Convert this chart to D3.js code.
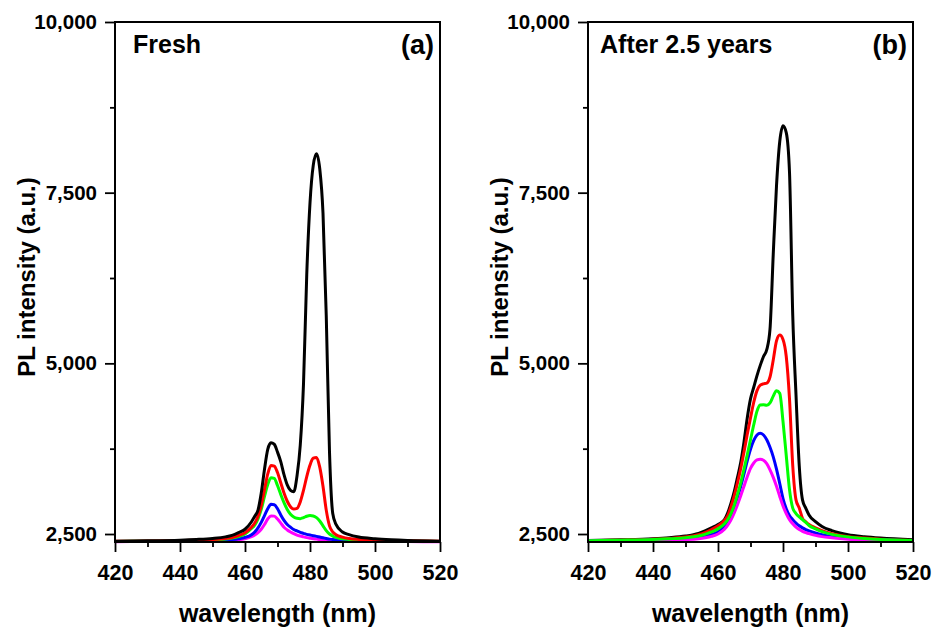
<!DOCTYPE html>
<html lang="en">
<head>
<meta charset="UTF-8">
<title>PL spectra</title>
<script src="https://cdn.jsdelivr.net/npm/d3@7"></script>
<style>
body { margin: 0; background: #fff; }
text { font-family: Arial, "Liberation Sans", sans-serif; font-weight: bold; fill: #000; }
</style>
</head>
<body>
<script>

var width = 938,
    height = 628

// wavelength grid (nm), shared by every curve
var wavelength = [420, 430, 440, 445, 450, 454, 456, 458, 460, 462, 463, 464, 465, 466, 467, 468, 469, 470, 471, 472,
                  473, 474, 475, 476, 477, 478, 479, 480, 481, 482, 483, 484, 485, 486, 487, 488, 490, 492, 495, 500,
                  505, 510, 520]

// (a) fresh
var freshBlack = [2395, 2400, 2410, 2420, 2435, 2458, 2480, 2520, 2570, 2680, 2760, 2850, 3100, 3450, 3740, 3835, 3815, 3700, 3560, 3370,
                  3220, 3140, 3120, 3350, 3800, 4700, 6300, 7350, 7900, 8070, 7850, 7200, 5700, 3700, 2800, 2640, 2530, 2490, 2455, 2430,
                  2415, 2405, 2395]
var freshRed = [2393, 2396, 2402, 2408, 2418, 2435, 2450, 2478, 2520, 2600, 2660, 2760, 2920, 3150, 3380, 3505, 3495, 3400, 3250, 3100,
                2980, 2900, 2865, 2875, 2970, 3140, 3340, 3510, 3610, 3620, 3480, 3200, 2850, 2620, 2530, 2490, 2455, 2435, 2420, 2410,
                2403, 2400, 2393]
var freshGreen = [2391, 2394, 2398, 2403, 2412, 2426, 2440, 2462, 2500, 2580, 2630, 2720, 2860, 3050, 3225, 3325, 3315, 3210, 3080, 2960,
                  2860, 2790, 2750, 2730, 2725, 2740, 2760, 2770, 2765, 2740, 2690, 2620, 2550, 2500, 2470, 2450, 2430, 2420, 2410, 2403,
                  2399, 2396, 2391]
var freshBlue = [2390, 2392, 2395, 2398, 2402, 2410, 2418, 2430, 2450, 2490, 2530, 2590, 2670, 2770, 2870, 2935, 2930, 2870, 2780, 2700,
                 2640, 2600, 2565, 2545, 2525, 2510, 2495, 2485, 2475, 2465, 2455, 2445, 2435, 2425, 2420, 2415, 2408, 2403, 2400, 2397,
                 2395, 2393, 2390]
var freshMagenta = [2388, 2390, 2392, 2394, 2397, 2402, 2407, 2415, 2430, 2460, 2485, 2520, 2570, 2640, 2720, 2765, 2762, 2720, 2660, 2600,
                    2560, 2530, 2505, 2485, 2470, 2458, 2447, 2438, 2430, 2425, 2420, 2416, 2412, 2409, 2406, 2404, 2400, 2397, 2394, 2392,
                    2390, 2389, 2388]

// (b) after 2.5 years
var agedBlack = [2405, 2415, 2430, 2445, 2470, 2510, 2545, 2590, 2640, 2710, 2810, 2950, 3120, 3330, 3550, 3850, 4200, 4480, 4650, 4820,
                 4970, 5100, 5200, 5500, 6600, 7600, 8250, 8480, 8380, 7800, 5700, 4540, 3500, 3000, 2880, 2780, 2680, 2610, 2550, 2490,
                 2460, 2440, 2415]
var agedRed = [2400, 2410, 2422, 2435, 2455, 2490, 2520, 2565, 2620, 2700, 2770, 2900, 3060, 3250, 3460, 3700, 3960, 4200, 4430, 4600,
               4680, 4700, 4710, 4800, 5050, 5330, 5415, 5350, 5100, 4480, 3500, 3000, 2880, 2730, 2680, 2640, 2590, 2550, 2505, 2460,
               2440, 2425, 2405]
var agedGreen = [2403, 2410, 2420, 2430, 2445, 2470, 2495, 2530, 2575, 2650, 2710, 2800, 2920, 3080, 3250, 3450, 3660, 3880, 4100, 4300,
                 4390, 4395, 4385, 4420, 4520, 4600, 4560, 4150, 3650, 3150, 2880, 2800, 2750, 2710, 2670, 2625, 2575, 2535, 2495, 2458,
                 2435, 2420, 2405]
var agedBlue = [2400, 2405, 2412, 2420, 2432, 2450, 2465, 2490, 2530, 2620, 2690, 2780, 2900, 3040, 3200, 3380, 3570, 3740, 3870, 3950,
                3975, 3950, 3880, 3770, 3630, 3450, 3240, 3020, 2870, 2770, 2710, 2660, 2620, 2590, 2565, 2545, 2515, 2490, 2462, 2440,
                2425, 2415, 2403]
var agedMagenta = [2395, 2398, 2403, 2408, 2418, 2432, 2445, 2465, 2500, 2570, 2630, 2710, 2810, 2930, 3060, 3200, 3340, 3460, 3540, 3585,
                   3595, 3580, 3530, 3440, 3330, 3200, 3050, 2910, 2800, 2710, 2650, 2600, 2565, 2540, 2520, 2505, 2480, 2462, 2445, 2425,
                   2413, 2405, 2397]

var lineColors = ["#000000", "#ff0000", "#00ff00", "#0000ff", "#ff00ff"]
var xTicks = [420, 440, 460, 480, 500, 520]
var xMinor = [430, 450, 470, 490, 510]
var yTicks = [2500, 5000, 7500, 10000]
var yMinor = [3750, 6250, 8750]

var panelW = 325,
    panelH = 520,
    marginTop = 22

var panels = [
  {left: 115, label: "Fresh", labelX: 18, tag: "(a)",
   series: [freshBlack, freshRed, freshGreen, freshBlue, freshMagenta], order: [4, 3, 2, 1, 0]},
  {left: 588, label: "After 2.5 years", labelX: 12, tag: "(b)",
   series: [agedBlack, agedRed, agedGreen, agedBlue, agedMagenta], order: [0, 1, 3, 4, 2]}
]

var svg = d3.select("body").append("svg")
    .attr("width", width)
    .attr("height", height)

var x = d3.scaleLinear().domain([420, 520]).range([0, panelW])
var y = d3.scaleLinear().domain([2383, 10000]).range([panelH, 0])

var line = d3.line()
    .x(function(d) { return x(d[0]) })
    .y(function(d) { return y(d[1]) })
    .curve(d3.curveMonotoneX)

panels.forEach(function(p) {
  var g = svg.append("g").attr("transform", "translate(" + p.left + "," + marginTop + ")")

  // curves
  p.order.forEach(function(k) {
    var pts = wavelength.map(function(w, i) { return [w, p.series[k][i]] })
    g.append("path")
        .datum(pts)
        .attr("fill", "none")
        .attr("stroke", lineColors[k])
        .attr("stroke-width", 3)
        .attr("stroke-linejoin", "round")
        .attr("d", line)
  })

  // axes
  var xa = g.append("g").attr("transform", "translate(0," + panelH + ")")
      .call(d3.axisBottom(x).tickValues(xTicks).tickSize(10).tickPadding(13))
  var xm = g.append("g").attr("transform", "translate(0," + panelH + ")")
      .call(d3.axisBottom(x).tickValues(xMinor).tickSize(5).tickFormat(""))
  var ya = g.append("g")
      .call(d3.axisLeft(y).tickValues(yTicks).tickSize(10).tickPadding(8).tickFormat(d3.format(",")))
  var ym = g.append("g")
      .call(d3.axisLeft(y).tickValues(yMinor).tickSize(5).tickFormat(""))

  ;[xa, xm, ya, ym].forEach(function(a) {
    a.attr("font-family", null).attr("font-size", null)
    a.select(".domain").remove()
    a.selectAll("line").attr("stroke", "#000").attr("stroke-width", 1.8)
  })
  xa.selectAll("text").style("font-size", "21.5px")
  ya.selectAll("text").style("font-size", "20.5px")

  // frame
  g.append("rect")
      .attr("width", panelW)
      .attr("height", panelH)
      .attr("fill", "none")
      .attr("stroke", "#000")
      .attr("stroke-width", 2)

  // titles
  g.append("text")
      .attr("x", panelW / 2)
      .attr("y", 600)
      .attr("text-anchor", "middle")
      .style("font-size", "25px")
      .text("wavelength (nm)")

  g.append("text")
      .attr("transform", "translate(-80," + (panelH / 2 - 5) + ") rotate(-90)")
      .attr("text-anchor", "middle")
      .style("font-size", "24px")
      .text("PL intensity (a.u.)")

  g.append("text")
      .attr("x", p.labelX)
      .attr("y", 31)
      .style("font-size", "25px")
      .text(p.label)

  g.append("text")
      .attr("x", panelW - 6)
      .attr("y", 32)
      .attr("text-anchor", "end")
      .style("font-size", "27px")
      .text(p.tag)
})

</script>
</body>
</html>
